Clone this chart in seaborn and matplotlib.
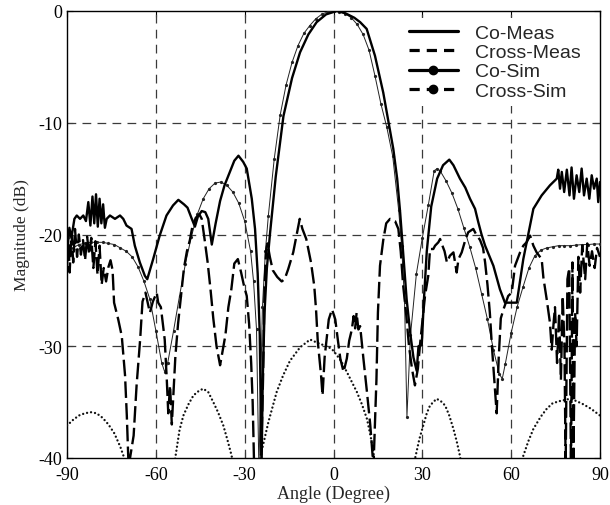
import matplotlib
matplotlib.use("Agg")
import matplotlib.pyplot as plt
import seaborn as sns
from matplotlib.lines import Line2D

# ---------------- data ----------------
co_meas_deg = [-90, -89.2, -88.5, -87.5, -86.7, -85.6, -84.5, -83.6, -82.8, -82.1, -81.4, -80.8,
               -80.2, -79.6, -79.0, -78.4, -77.8, -77.2, -76.6, -75.5, -73.8, -72.1, -71.0, -69.9,
               -68.2, -67.1, -65.4, -63.7, -62.9, -60.9, -58.7, -56.4, -54.2, -52.4, -50.5, -49.3,
               -48.0, -46.8, -45.8, -44.5, -43.3, -42.3, -41.1, -39.8, -38.3, -36.8, -35.0, -33.5,
               -32.1, -30.5, -29.3, -27.6, -26.5, -25.6, -24.9, -24.3,
               -23.9, -23.3, -22.5, -21.4, -19.5, -16.9, -14.0, -11.3, -8.5, -5.7, -2.5, 1.1, 4.0,
               7.0, 9.0, 11.2, 14.0, 16.8, 18.5, 20.2, 21.5, 22.5, 23.5, 24.7, 26.0, 27.0, 28.1,
               28.7, 29.8, 30.5, 31.5, 33.0, 35.0, 37.0, 39.1, 40.5, 42.7, 44.5, 46.1, 47.8, 48.9,
               50.0, 51.2, 54.0, 56.2, 57.9, 60.7, 61.9, 64.1, 67.5, 70.3, 73.1,
               75.4, 75.9, 76.5, 77.1, 77.9, 78.8, 79.7, 80.4, 81.2, 82.1, 83.0, 83.8, 84.6, 85.5,
               86.4, 87.2, 88.0, 88.9, 89.4, 90.0]
co_meas_db = [-21.5, -19.4, -20.3, -18.6, -18.3, -18.6, -18.3, -18.8, -17.1, -19.2, -16.6, -19.0,
              -16.4, -19.3, -16.8, -19.0, -17.3, -19.4, -18.6, -18.3, -18.6, -18.3, -18.6, -19.2,
              -19.5, -21.0, -22.5, -23.7, -24.0, -22.2, -20.1, -18.3, -17.4, -16.9, -17.3, -17.6,
              -18.5, -19.3, -18.4, -17.9, -18.0, -18.6, -20.9, -19.0, -17.0, -15.6, -14.4, -13.4,
              -12.95, -13.5, -14.1, -16.8, -19.5, -23.5, -29.0, -41.0,
              -33.0, -27.0, -23.0, -19.8, -14.8, -9.4, -6.0, -3.7, -2.1, -1.0, -0.3, 0.0, -0.2,
              -0.6, -1.0, -1.6, -4.0, -7.3, -9.8, -12.35, -15.0, -18.0, -21.5, -25.8, -29.0, -31.0,
              -32.2, -30.0, -29.9, -26.0, -21.5, -17.5, -15.0, -13.8, -13.3, -13.8, -15.0, -15.8,
              -16.8, -17.7, -18.9, -20.0, -21.0, -22.8, -24.9, -26.1, -26.1, -26.1, -22.2, -17.7,
              -16.5, -15.6,
              -15.0, -14.2, -15.9, -14.4, -16.2, -14.2, -16.5, -14.0, -16.8, -14.7, -16.2, -14.1,
              -16.5, -15.0, -16.8, -14.7, -15.9, -15.0, -17.1, -15.3]

cross_meas_deg = [-90, -89.6, -89.1, -88.5, -87.9, -87.3, -86.6, -86.0, -85.3, -84.6, -83.9, -83.2,
                  -82.5, -81.8, -81.1, -80.4, -79.7, -79.0, -78.3, -77.6, -76.8, -76.0, -75.3,
                  -74.6, -74.1, -72.7, -71.5, -70.4, -69.8, -69.2, -67.5, -66.5, -65.3, -64.5,
                  -63.5, -62.0, -61.0, -59.7, -59.2, -58.3, -57.0, -56.3, -55.8, -55.2, -54.6,
                  -54.0, -53.4, -52.5, -51.5, -50.5, -49.5, -48.5, -47.6, -46.5, -45.3, -44.5,
                  -43.5, -42.5, -41.5, -40.6, -39.5, -38.3, -37.5, -36.5, -35.5, -34.5, -33.5,
                  -32.3, -31.2, -30.3, -29.3, -28.5, -27.8, -27.3, -26.8, -24.5, -23.8, -23.3,
                  -22.8, -22.3, -21.5, -20.5, -19.0, -17.5, -16.5, -15.3, -13.6, -11.4, -10.5,
                  -9.2, -7.6, -6.5, -5.9, -5.3, -4.2, -3.7, -3.0, -1.6, -0.5, 0.6, 1.5, 2.3, 3.4,
                  4.5, 5.3, 6.2, 6.8, 7.3, 7.8, 8.4, 9.0, 10.1, 11.3, 12.4, 13.5, 14.5, 15.0, 15.7,
                  16.8, 17.8, 19.1, 20.8, 21.9, 22.7, 23.5, 24.5, 25.5, 26.5, 27.5, 28.5, 29.2,
                  30.2, 30.9, 32.0, 32.6, 33.7, 34.3, 35.4, 36.0, 36.5, 37.5, 38.3, 39.3, 40.5,
                  41.6, 42.2, 43.3, 44.5, 45.5, 47.2, 48.2, 49.5, 50.5, 51.2, 52.0, 52.8, 53.5,
                  54.3, 55.1, 55.8, 56.5, 57.4, 59.0, 60.2, 61.3, 63.0, 64.1, 65.2, 66.4, 67.5,
                  68.6, 70.3, 70.9, 72.0, 73.1, 73.7, 74.3, 74.8, 75.5, 76.2, 76.8, 77.4, 78.0,
                  78.4, 79.0, 79.6, 80.2, 80.7, 81.0, 81.6, 82.1, 82.7, 83.3, 84.0, 85.0, 85.7,
                  86.5, 87.3, 88.2, 89.0, 90.0]
cross_meas_db = [-23.0, -20.0, -23.4, -19.8, -22.5, -19.5, -22.0, -20.0, -21.8, -20.5, -22.3, -20.2,
                 -21.8, -20.3, -23.0, -20.6, -23.6, -21.0, -24.5, -23.0, -24.2, -22.9, -22.3,
                 -23.2, -26.1, -27.6, -29.1, -32.6, -36.2, -40.8, -38.0, -33.5, -29.4, -26.0,
                 -25.2, -27.0, -26.0, -25.2, -26.1, -26.5, -29.4, -33.0, -36.0, -33.5, -37.0,
                 -34.0, -30.9, -28.0, -25.5, -23.0, -21.5, -20.5, -19.2, -18.5, -18.2, -18.6,
                 -20.5, -22.5, -25.0, -27.5, -30.0, -31.7, -30.5, -29.0, -26.5, -24.9, -22.6,
                 -22.2, -23.4, -24.5, -25.5, -28.0, -31.5, -35.0, -40.8, -40.8, -33.0, -25.0,
                 -21.5, -20.8, -22.0, -23.2, -23.8, -24.2, -24.0, -23.1, -21.6, -18.6, -19.5,
                 -20.4, -22.5, -24.6, -26.7, -29.6, -32.6, -34.4, -31.0, -27.6, -26.7, -27.6,
                 -29.5, -31.1, -32.3, -31.1, -29.5, -28.5, -27.3, -28.4, -27.0, -28.5, -28.2,
                 -31.1, -34.1, -37.0, -40.8, -33.0, -27.0, -22.8, -20.5, -19.0, -18.6, -18.8,
                 -19.5, -21.5, -24.5, -27.0, -30.0, -32.0, -33.5, -32.0, -29.9, -27.3, -25.5,
                 -23.7, -21.3, -21.3, -21.0, -20.7, -20.4, -20.8, -21.5, -22.5, -21.9, -21.6,
                 -23.4, -22.2, -21.6, -20.5, -19.8, -19.5, -20.0, -20.5, -21.2, -22.5, -24.5,
                 -27.0, -30.0, -33.0, -36.0, -31.0, -27.5, -26.7, -25.5, -25.2, -22.8, -21.6,
                 -21.0, -20.7, -20.1, -21.0, -21.6, -22.2, -23.9, -25.8, -27.9, -30.3, -28.0,
                 -26.5, -31.5, -27.0, -33.0, -25.5, -30.0, -40.8, -24.0, -23.0, -40.8, -22.5,
                 -40.8, -27.0, -30.0, -22.0, -25.2, -21.0, -24.0, -20.8, -22.8, -21.5, -23.0,
                 -21.2, -22.0]

co_sim_deg = [-90, -88, -86, -84, -82, -80, -78, -76, -74, -72, -70, -68, -66, -64, -62, -60, -58,
              -57, -56, -54, -52, -50, -48, -46, -44, -42, -40, -38, -36, -34, -32, -30, -28, -27,
              -26, -25.2, -24, -23, -22, -20, -18, -16, -14, -12, -10, -8, -6, -4, -2, 0, 2, 4, 6,
              8, 10, 12, 14, 16, 18, 20, 22, 23, 24, 24.8, 26, 28, 30, 32, 34, 35, 36, 38, 40, 42,
              44, 46, 48, 50, 52, 54, 56, 57, 58, 60, 62, 64, 66, 68, 70, 72, 74, 76, 78, 80, 82,
              84, 86, 88, 90]
co_sim_db = [-21.6, -21.2, -20.9, -20.8, -20.7, -20.7, -20.7, -20.8, -20.9, -21.2, -21.5, -22.0,
             -22.9, -24.2, -25.8, -28.6, -31.5, -32.3, -31.5, -28.6, -25.5, -22.6, -20.2, -18.2,
             -16.8, -15.9, -15.4, -15.3, -15.6, -16.2, -17.2, -18.8, -21.5, -24.2, -28.5, -41.0,
             -26.5, -21.5, -18.3, -13.2, -9.3, -6.6, -4.6, -3.1, -2.0, -1.3, -0.7, -0.3, -0.08,
             0.0, -0.05, -0.25, -0.6, -1.2, -2.1, -3.5, -5.8, -8.3, -10.4, -13.0, -17.8, -21.0,
             -26.0, -36.3, -29.0, -23.5, -20.3, -17.4, -14.3, -14.1, -14.3, -15.2, -16.3, -17.7,
             -19.4, -21.1, -23.0, -25.3, -27.6, -30.3, -32.5, -32.9, -31.6, -28.8, -26.5, -24.7,
             -23.0, -21.9, -21.4, -21.2, -21.1, -21.0, -21.0, -21.0, -20.95, -20.9, -20.9,
             -20.85, -20.85]

cross_sim_deg = [-90, -88, -86, -84, -82, -80, -78, -76, -74, -72, -70, -68.5,
                 -55, -53.5, -52, -50.7, -49, -47.3, -45.5, -44, -42.3, -40.6, -39, -37.2, -35.8,
                 -34.4, -33,
                 -26, -24.8, -22, -19.2, -17, -14.7, -11.3, -7.9, -4.5, -2, 0, 2.5, 4.5, 6.2, 7.9,
                 9.6, 11.3, 12.5, 13.5, 14.5,
                 26, 27.5, 29, 30.3, 31.5, 32.6, 34.8, 36.2, 37.7, 39.1, 40.5, 41.6, 42.7, 44,
                 62, 64.1, 65.8, 67.5, 70, 72, 74, 76.5, 79.9, 82, 84.4, 87, 90]
cross_sim_db = [-37.1, -36.6, -36.2, -36.0, -35.9, -36.0, -36.4, -37.0, -37.8, -39.0, -40.5, -42.5,
                -43.0, -40.1, -37.5, -36.2, -35.2, -34.4, -34.0, -33.8, -34.1, -35.0, -35.9,
                -37.1, -38.4, -39.8, -42.0,
                -43.0, -40.0, -36.8, -34.1, -32.6, -31.3, -30.1, -29.4, -29.8, -30.0, -30.4,
                -31.3, -32.3, -33.2, -34.1, -35.2, -36.5, -38.0, -39.5, -42.0,
                -43.0, -40.1, -38.3, -37.1, -36.0, -35.3, -34.7, -34.9, -35.3, -36.2, -37.4,
                -38.5, -39.8, -42.0,
                -43.0, -39.8, -38.5, -37.4, -36.3, -35.6, -35.1, -34.9, -34.7, -34.9, -35.2,
                -35.6, -36.2]

x_ticks = [-90, -60, -30, 0, 30, 60, 90]
y_ticks = [-40, -30, -20, -10, 0]
legend_labels = ["Co-Meas", "Cross-Meas", "Co-Sim", "Cross-Sim"]

# ---------------- style ----------------
sns.set_style("ticks")
plt.rcParams["font.family"] = ["Liberation Serif", "DejaVu Serif"]
plt.rcParams["axes.unicode_minus"] = False

fig = plt.figure(figsize=(6.1, 5.06), dpi=100)
ax = fig.add_axes([67 / 610, 47 / 506, 533 / 610, 447 / 506])

# grid
for v in x_ticks[1:-1]:
    ax.axvline(v, color="#3a3a3a", lw=0.9, ls=(0, (7, 5)), zorder=1)
for v in y_ticks[1:-1]:
    ax.axhline(v, color="#3a3a3a", lw=0.9, ls=(0, (7, 5)), zorder=1)

# curves
sns.lineplot(x=co_sim_deg, y=co_sim_db, ax=ax, color="#222222", lw=0.7, sort=False,
             estimator=None, marker="o", markersize=2.3, markeredgewidth=0, zorder=3)
sns.lineplot(x=cross_sim_deg, y=cross_sim_db, ax=ax, color="#111111", lw=1.7, sort=False,
             estimator=None, linestyle=(0, (0.01, 1.7)), dash_capstyle="round", zorder=3)
sns.lineplot(x=cross_meas_deg, y=cross_meas_db, ax=ax, color="black", lw=1.7, sort=False,
             estimator=None, linestyle=(0, (7, 2.2)), zorder=4)
sns.lineplot(x=co_meas_deg, y=co_meas_db, ax=ax, color="black", lw=1.7, sort=False,
             estimator=None, zorder=5)

ax.set_xlim(-90, 90)
ax.set_ylim(-40, 0)
ax.set_xticks(x_ticks)
ax.set_yticks(y_ticks)
ax.set_xticklabels([str(t) for t in x_ticks])
ax.set_yticklabels([str(t) for t in y_ticks])
ax.tick_params(direction="in", length=4, width=0.8, top=True, right=True, labelsize=13,
               colors="black")
ax.tick_params(axis="x", pad=6)
ax.tick_params(axis="y", pad=3.5)
for s in ax.spines.values():
    s.set_color("black")
    s.set_linewidth(1.0)
    s.set_visible(True)

ax.set_xlabel("Angle (Degree)", fontsize=13, labelpad=1)
ax.set_ylabel("Magnitude (dB)", fontsize=12.5, labelpad=6)

handles = [
    Line2D([], [], color="black", lw=2.3),
    Line2D([], [], color="black", lw=2.3, ls=(0, (3.2, 2.2))),
    Line2D([], [], color="black", lw=2.3, marker="o", markersize=6),
    Line2D([], [], color="black", lw=2.3, ls=(0, (3.2, 2.2)), marker="o", markersize=6),
]
leg = ax.legend(handles, legend_labels, loc="upper right", bbox_to_anchor=(0.977, 0.985),
                prop={"family": ["Liberation Sans", "DejaVu Sans"], "size": 14},
                frameon=True, fancybox=False, framealpha=1, facecolor="white",
                edgecolor="none", handlelength=2.5, handletextpad=0.9, labelspacing=0.08,
                borderpad=0.35, borderaxespad=0)
leg.set_zorder(10)

fig.savefig("out.png", dpi=100)
